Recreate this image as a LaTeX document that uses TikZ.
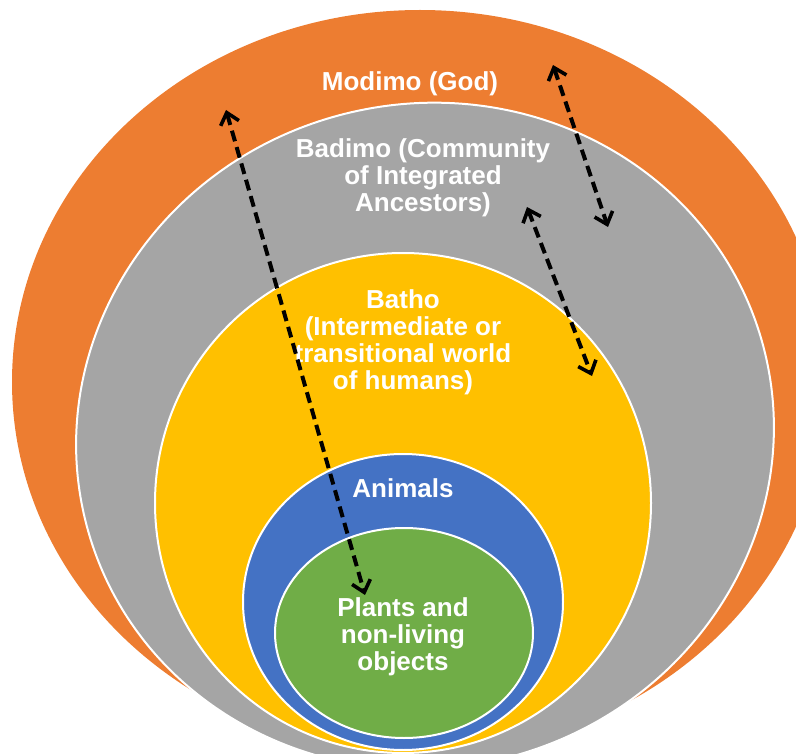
\documentclass[tikz,border=0pt]{standalone}
\usepackage{fontspec}
\setmainfont{Liberation Sans}
\usetikzlibrary{arrows.meta}
\definecolor{orng}{HTML}{ED7D31}
\definecolor{gry}{HTML}{A5A5A5}
\definecolor{ylw}{HTML}{FFC000}
\definecolor{blu}{HTML}{4472C4}
\definecolor{grn}{HTML}{70AD47}
\begin{document}
\begin{tikzpicture}[x=1pt,y=-1pt,
  ring/.style={draw=white,line width=2pt},
  lbl/.style={text=white,font=\bfseries\fontsize{26}{27}\selectfont,align=center,inner sep=0pt},
  barb/.tip={Straight Barb[length=11pt,width=19pt,line width=3.6pt]},
  link/.style={black,line width=4pt,dash pattern=on 11pt off 6pt,barb-barb}]
\useasboundingbox (0,0) rectangle (796,754);
\begin{scope}
\clip (0,0) rectangle (796,754);
\fill[orng] (420,382) ellipse [x radius=408pt, y radius=372pt];
\draw[ring,fill=gry,rotate around={15:(425,436)}] (425,436) ellipse [x radius=350pt, y radius=332pt];
\draw[ring,fill=ylw] (403,503) ellipse [x radius=248pt, y radius=250pt];
\draw[ring,fill=blu] (403,602) ellipse [x radius=160pt, y radius=148pt];
\draw[ring,fill=grn] (404,633) ellipse [x radius=129pt, y radius=105pt];
\end{scope}
\node[lbl,anchor=base] (god) at (410,91) {Modimo (God)};
\node[lbl,anchor=north] (badimo) at (423,138) {Badimo (Community\\of Integrated\\Ancestors)};
\node[lbl,anchor=north] (batho) at (403,289) {Batho\\(Intermediate or\\transitional world\\of humans)};
\node[lbl,anchor=base] (animals) at (403,497) {Animals};
\node[lbl,anchor=north] (plants) at (403,597) {Plants and\\non-living\\objects};
\coordinate (a1s) at (226,110);
\coordinate (a1e) at (365,595);
\coordinate (a2s) at (553,65);
\coordinate (a2e) at (608,227);
\coordinate (a3s) at (527,207);
\coordinate (a3e) at (592,376);
\draw[link] (a1s) -- (a1e);
\draw[link] (a2s) -- (a2e);
\draw[link] (a3s) -- (a3e);
\end{tikzpicture}
\end{document}
